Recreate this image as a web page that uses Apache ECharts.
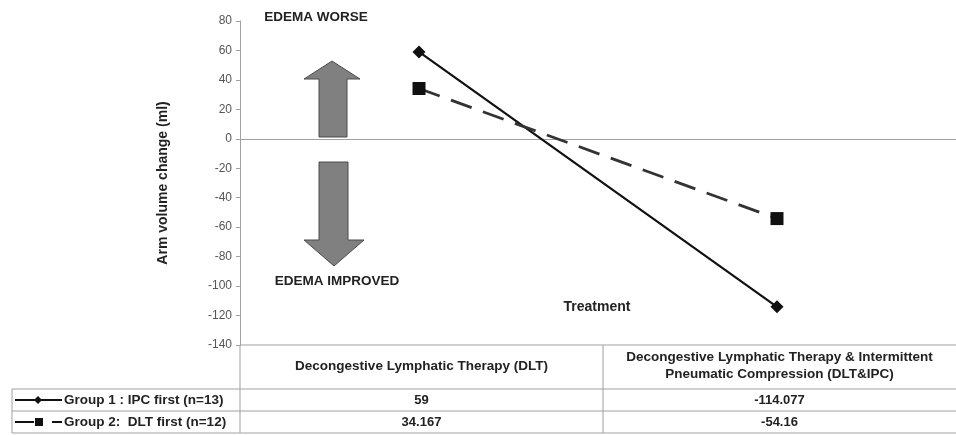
<!DOCTYPE html>
<html>
<head>
<meta charset="utf-8">
<script src="https://cdn.jsdelivr.net/npm/echarts@6/dist/echarts.min.js"></script>
<style>
	html, body { margin: 0; padding: 0; background: #fff; }
	#main { width: 956px; height: 435px; }
</style>
</head>
<body>
<div id="main"></div>
<script>
var categories = ['Decongestive Lymphatic Therapy (DLT)', 'Decongestive Lymphatic Therapy & Intermittent\nPneumatic Compression (DLT&IPC)'];
var group1 = [59, -114.077];
var group2 = [34.167, -54.16];
var group1Name = 'Group 1 : IPC first (n=13)';
var group2Name = 'Group 2:  DLT first (n=12)';
var yMin = -140, yMax = 80, yStep = 20;

var FONT = 'Liberation Sans, Arial, sans-serif';
var lineGray = '#a0a0a0';

function tableGraphics() {
	var g = [];
	var L = 12, X0 = 240, XM = 603, R = 956;
	var yTop = 345, yHead = 389, yRow1 = 411, yRow2 = 433;
	function hline(x1, x2, y) {
		g.push({ type: 'line', shape: { x1: x1, y1: y, x2: x2, y2: y }, style: { stroke: lineGray, lineWidth: 1 } });
	}
	function vline(x, y1, y2) {
		g.push({ type: 'line', shape: { x1: x, y1: y1, x2: x, y2: y2 }, style: { stroke: lineGray, lineWidth: 1 } });
	}
	hline(X0, R, yTop);
	hline(L, R, yHead);
	hline(L, R, yRow1);
	hline(L, R, yRow2);
	vline(X0, yTop, yRow2);
	vline(XM, yTop, yRow2);
	vline(L, yHead, yRow2);

	// column centres follow the category axis
	var colX = [(X0 + XM) / 2, (XM + R) / 2];
	for (var i = 0; i < categories.length; i++) {
		g.push({ type: 'text', x: colX[i], y: (yTop + yHead) / 2 - 1, style: {
			text: categories[i], align: 'center', verticalAlign: 'middle',
			font: 'bold 13.5px ' + FONT, fill: '#222', lineHeight: 17 } });
		g.push({ type: 'text', x: colX[i], y: (yHead + yRow1) / 2, style: {
			text: String(group1[i]), align: 'center', verticalAlign: 'middle',
			font: 'bold 13px ' + FONT, fill: '#222' } });
		g.push({ type: 'text', x: colX[i], y: (yRow1 + yRow2) / 2, style: {
			text: String(group2[i]), align: 'center', verticalAlign: 'middle',
			font: 'bold 13px ' + FONT, fill: '#222' } });
	}

	// legend keys
	var r1 = (yHead + yRow1) / 2, r2 = (yRow1 + yRow2) / 2;
	g.push({ type: 'line', shape: { x1: 15, y1: r1, x2: 62, y2: r1 }, style: { stroke: '#111', lineWidth: 2 } });
	g.push({ type: 'polygon', shape: { points: [[38, r1 - 4], [42, r1], [38, r1 + 4], [34, r1]] }, style: { fill: '#111' } });
	g.push({ type: 'line', shape: { x1: 15, y1: r2, x2: 34, y2: r2 }, style: { stroke: '#111', lineWidth: 2 } });
	g.push({ type: 'rect', shape: { x: 35, y: r2 - 4, width: 8, height: 8 }, style: { fill: '#111' } });
	g.push({ type: 'line', shape: { x1: 52, y1: r2, x2: 62, y2: r2 }, style: { stroke: '#111', lineWidth: 2 } });
	g.push({ type: 'text', x: 64, y: r1, style: { text: group1Name, verticalAlign: 'middle', font: 'bold 13.5px ' + FONT, fill: '#222' } });
	g.push({ type: 'text', x: 64, y: r2, style: { text: group2Name, verticalAlign: 'middle', font: 'bold 13.5px ' + FONT, fill: '#222' } });
	return g;
}

function arrowGraphics() {
	var arrowStyle = { fill: '#808080', stroke: '#4a4a4a', lineWidth: 1 };
	return [
		{ type: 'polygon', shape: { points: [[332, 61], [360, 79], [347, 79], [347, 137], [319, 137], [319, 79], [304, 79]] }, style: arrowStyle },
		{ type: 'polygon', shape: { points: [[319, 162], [348, 162], [348, 240], [364, 240], [334, 266], [304, 240], [319, 240]] }, style: arrowStyle },
		{ type: 'text', x: 316, y: 17, style: { text: 'EDEMA WORSE', align: 'center', verticalAlign: 'middle', font: 'bold 13.5px ' + FONT, fill: '#222' } },
		{ type: 'text', x: 337, y: 281, style: { text: 'EDEMA IMPROVED', align: 'center', verticalAlign: 'middle', font: 'bold 13.5px ' + FONT, fill: '#222' } },
		{ type: 'text', x: 597, y: 307, style: { text: 'Treatment', align: 'center', verticalAlign: 'middle', font: 'bold 14px ' + FONT, fill: '#222' } }
	];
}

var myChart = echarts.init(document.getElementById('main'));
var option = {
	animation: false,
	grid: { left: 240, right: -8, top: 21, bottom: 90 },
	xAxis: {
		type: 'category',
		data: categories,
		boundaryGap: true,
		axisLine: { onZero: true, lineStyle: { color: lineGray, width: 1 } },
		axisTick: { show: false },
		axisLabel: { show: false },
		splitLine: { show: false }
	},
	yAxis: {
		type: 'value',
		min: yMin,
		max: yMax,
		interval: yStep,
		name: 'Arm volume change (ml)',
		nameLocation: 'middle',
		nameGap: 70,
		nameTextStyle: { fontFamily: FONT, fontWeight: 'bold', fontSize: 14, color: '#222' },
		axisLine: { show: true, lineStyle: { color: lineGray } },
		axisTick: { show: true, length: 4, lineStyle: { color: lineGray } },
		axisLabel: { fontFamily: FONT, fontSize: 12, color: '#555', margin: 8 },
		splitLine: { show: false }
	},
	series: [
		{
			name: group1Name,
			type: 'line',
			data: group1,
			symbol: 'diamond',
			symbolSize: 13,
			itemStyle: { color: '#111' },
			lineStyle: { color: '#111', width: 2.2 }
		},
		{
			name: group2Name,
			type: 'line',
			data: group2,
			symbol: 'rect',
			symbolSize: 13,
			itemStyle: { color: '#111' },
			lineStyle: { color: '#333', width: 2.8, type: [22, 12] }
		}
	],
	graphic: arrowGraphics().concat(tableGraphics())
};
myChart.setOption(option);
</script>
</body>
</html>
